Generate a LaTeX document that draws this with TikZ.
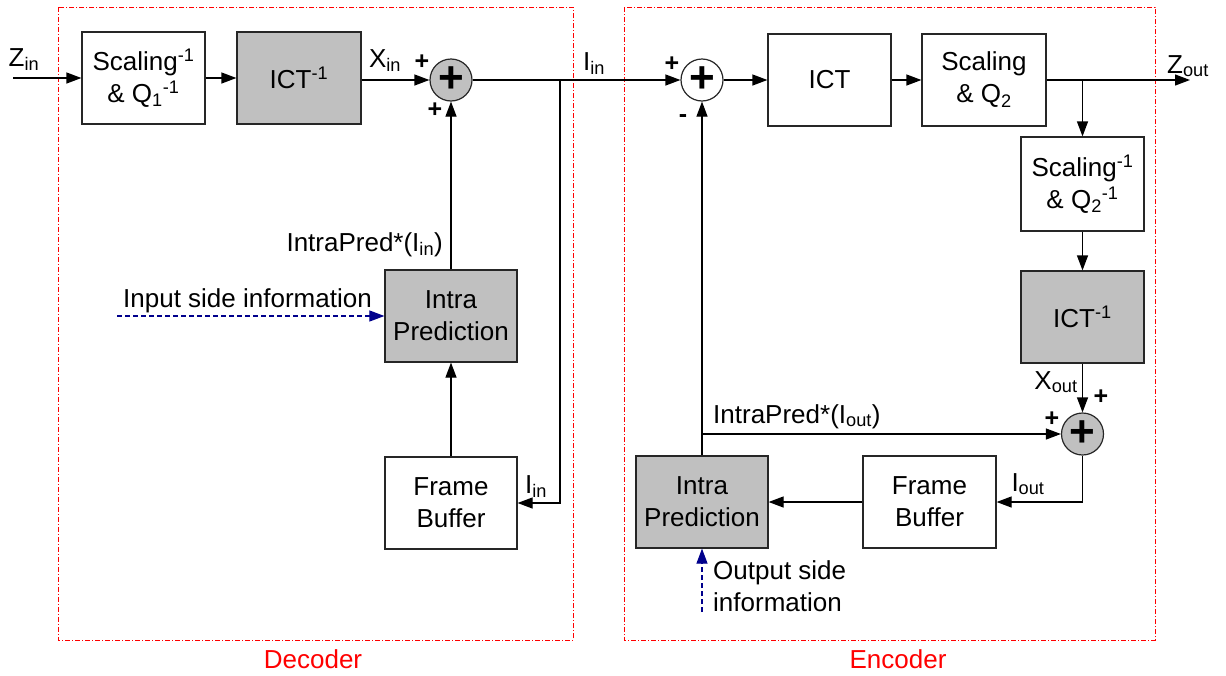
\documentclass[tikz,border=0pt]{standalone}
\usepackage{fontspec}
\setmainfont{Liberation Sans}
\usetikzlibrary{arrows.meta}
\newcommand\mysub[1]{\textsubscript{#1}}
\newcommand\mysup[1]{\textsuperscript{#1}}
\definecolor{boxgray}{RGB}{192,192,192}
\definecolor{infoblue}{RGB}{0,0,140}
\begin{document}
\begin{tikzpicture}[x=1pt,y=-1pt,
  every node/.style={font=\fontsize{26}{32}\selectfont, inner sep=0pt},
  blk/.style={draw=black!85, line width=1.2pt, align=center, minimum width=123, minimum height=92},
  gblk/.style={blk, fill=boxgray},
  sumnode/.style={circle, draw=black!85, line width=1.2pt, minimum size=42, font=\fontsize{44}{44}\selectfont\bfseries},
  arr/.style={line width=1.2pt, -{Triangle[length=15pt,width=11pt]}},
  info/.style={infoblue, line width=1.1pt, dash pattern=on 5pt off 3pt, -{Triangle[length=15pt,width=11pt]}},
  frame/.style={red, line width=0.8pt, dash pattern=on 5pt off 2pt on 1pt off 2pt},
  lbl/.style={anchor=base},
  pm/.style={font=\fontsize{25}{30}\selectfont\bfseries}
]
\useasboundingbox (0,0) rectangle (1226,675);

% frames
\draw[frame] (58,7) rectangle (573,640);
\draw[frame] (624,7) rectangle (1155,640);
\node[red, lbl] (dec) at (313,668) {Decoder};
\node[red, lbl] (enc) at (898,668) {Encoder};

% decoder blocks
\node[blk] (sq1) at (143.5,78) {Scaling\mysup{-1}\\\& Q\mysub{1}\mysup{-1}};
\node[gblk, minimum width=124] (ict1) at (299,78) {ICT\mysup{-1}};
\node[sumnode, fill=boxgray] (sum1) at (451,80) {+};
\node[gblk, minimum width=132] (ip1) at (451,316) {Intra\\Prediction};
\node[blk, minimum width=132] (fb1) at (451,503) {Frame\\Buffer};

% encoder blocks
\node[sumnode, fill=white] (sum2) at (702,80) {+};
\node[blk] (ict2) at (829.5,80) {ICT};
\node[blk, minimum width=124] (sq2) at (984,80) {Scaling\\\& Q\mysub{2}};
\node[blk, minimum height=94] (sqi2) at (1082.5,184) {Scaling\mysup{-1}\\\& Q\mysub{2}\mysup{-1}};
\node[gblk] (icti2) at (1082.5,317) {ICT\mysup{-1}};
\node[sumnode, fill=boxgray] (sum3) at (1082.5,434) {+};
\node[blk, minimum width=133] (fb2) at (929.5,502) {Frame\\Buffer};
\node[gblk, minimum width=132] (ip2) at (702,502) {Intra\\Prediction};

% coordinates
\coordinate (zin) at (13,78);
\coordinate (br1) at (560,80);
\coordinate (br1b) at (560,503);
\coordinate (zout) at (1190,80);
\coordinate (br2) at (1082.5,80);
\coordinate (br3) at (1082.5,502);
\coordinate (br4) at (702,434);
\coordinate (isi) at (117,316);
\coordinate (osi) at (702,612);

% decoder connectors
\draw[arr] (zin) -- (sq1.west);
\draw[arr] (sq1.east) -- (ict1.west);
\draw[arr] (ict1.east |- sum1) -- (sum1.west);
\draw[arr] (sum1.east) -- (sum2.west);
\draw[arr] (br1) -- (br1b) -- (fb1.east |- br1b);
\draw[arr] (ip1.north) -- (sum1.south);
\draw[arr] (fb1.north) -- (ip1.south);
\draw[info] (isi) -- (ip1.west);

% encoder connectors
\draw[arr] (sum2.east) -- (ict2.west);
\draw[arr] (ict2.east) -- (sq2.west);
\draw[arr] (sq2.east) -- (zout);
\draw[arr] (br2) -- (sqi2.north);
\draw[arr] (sqi2.south) -- (icti2.north);
\draw[arr] (icti2.south) -- (sum3.north);
\draw[arr] (sum3.south) -- (br3) -- (fb2.east);
\draw[arr] (fb2.west) -- (ip2.east);
\draw[arr] (ip2.north) -- (sum2.south);
\draw[arr] (br4) -- (sum3.west);
\draw[info] (osi) -- (ip2.south);

% labels
\node[lbl] (lzin) at (24,66) {Z\mysub{in}};
\node[lbl] (lxin) at (385,67) {X\mysub{in}};
\node[pm] (p1) at (422,62) {+};
\node[pm] (p2) at (435,110) {+};
\node[lbl] (liin) at (594,70) {I\mysub{in}};
\node[pm] (p3) at (672,64) {+};
\node[pm] (m1) at (683,119) {-};
\node[lbl] (lzout) at (1188,73) {Z\mysub{out}};
\node[lbl] (lxout) at (1056,389) {X\mysub{out}};
\node[pm] (p4) at (1101,397) {+};
\node[pm] (p5) at (1052,419) {+};
\node[anchor=base west] (lipo) at (713,423) {IntraPred*(I\mysub{out})};
\node[lbl] (liout) at (1028,491) {I\mysub{out}};
\node[anchor=west, align=left] (losi) at (713,586) {Output side\\information};
\node[anchor=base east] (lipi) at (443,251) {IntraPred*(I\mysub{in})};
\node[anchor=base west] (lisi) at (123,307) {Input side information};
\node[lbl] (liin2) at (536,493) {I\mysub{in}};
\end{tikzpicture}
\end{document}
